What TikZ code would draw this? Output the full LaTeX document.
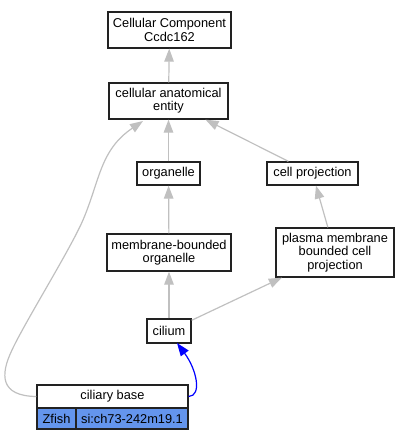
\documentclass[tikz,border=0pt]{standalone}
\usepackage{fontspec}
\setmainfont{Liberation Sans}
\usetikzlibrary{arrows.meta}
\definecolor{edgegray}{HTML}{C0C0C0}
\definecolor{cfblue}{HTML}{6495ED}
\definecolor{boxline}{HTML}{222222}
\begin{document}
\begin{tikzpicture}[x=1pt,y=-1pt,
  every node/.style={font=\fontsize{12.8}{13.3}\selectfont},
  box/.style={draw=boxline,line width=1.3pt,inner sep=0pt,align=center,fill=white},
  isa/.style={draw=edgegray,line width=1.2pt,-{Triangle[length=13pt,width=9.5pt]}},
  rel/.style={draw=blue,line width=1.2pt,-{Triangle[length=13pt,width=9.5pt]}}]
\useasboundingbox (0,0) rectangle (410,440);
\node[box,minimum width=123pt,minimum height=36pt] (cc) at (169.5,30) {Cellular Component\\Ccdc162};
\node[box,minimum width=119pt,minimum height=36pt] (cae) at (168.5,101) {cellular anatomical\\entity};
\node[box,minimum width=63pt,minimum height=23pt] (org) at (168.5,173.5) {organelle};
\node[box,minimum width=91pt,minimum height=23pt] (cp) at (312.5,173.5) {cell projection};
\node[box,minimum width=124pt,minimum height=37pt] (mbo) at (169,252.5) {membrane-bounded\\organelle};
\node[box,minimum width=118pt,minimum height=49pt] (pm) at (335,252.5) {plasma membrane\\bounded cell\\projection};
\node[box,minimum width=44pt,minimum height=24pt] (cil) at (169,331) {cilium};
\node[box,minimum width=151pt,minimum height=23pt] (cb) at (112.5,396.5) {ciliary base};
\node[box,fill=cfblue,minimum width=39pt,minimum height=21pt] (zf) at (56.5,418.5) {Zfish};
\node[box,fill=cfblue,minimum width=112pt,minimum height=21pt] (gene) at (132,418.5) {si:ch73-242m19.1};
\draw[isa] (cae) -- (cc);
\draw[isa] (org) -- (cae);
\draw[isa] (cp) -- (cae);
\draw[isa] (mbo) -- (org);
\draw[isa] (pm) -- (cp);
\draw[isa] (cil) -- (mbo);
\draw[isa] (cil) -- (pm);
\coordinate (k1) at (12,350);
\coordinate (k2) at (83,220);
\coordinate (t1) at (143,121);
\draw[isa] (cb.west) .. controls (0,396) and (0,375) .. (k1)
  .. controls (25,322) and (70,250) .. (k2)
  .. controls (100,180) and (100,150) .. (t1);
\coordinate (t2) at (177,343);
\draw[rel] (cb.east) .. controls (202,396) and (197,370) .. (t2);
\end{tikzpicture}
\end{document}
